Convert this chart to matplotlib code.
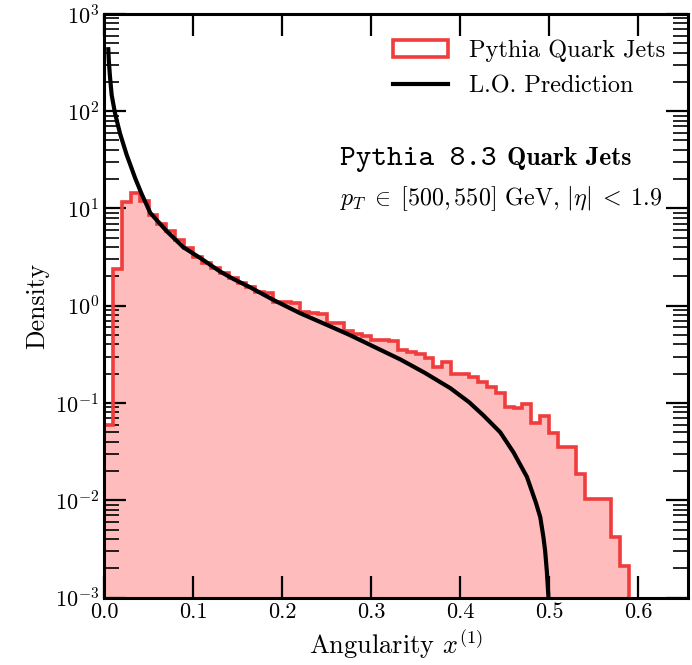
import numpy as np
import matplotlib
matplotlib.use("Agg")
import matplotlib.pyplot as plt
from matplotlib.ticker import NullFormatter

plt.rcParams['font.family'] = ['cmr10', 'DejaVu Serif']
plt.rcParams['mathtext.fontset'] = 'cm'
plt.rcParams['axes.formatter.use_mathtext'] = True

# ---- data ----
bin_edges = np.round(np.arange(0.0, 0.60001, 0.01), 3)
pythia_density = [0.059, 2.4, 11.6, 14.3, 11.8, 8.6, 7.0, 5.8, 4.75, 3.9,
                  3.2, 2.73, 2.42, 2.15, 1.91, 1.72, 1.55, 1.39, 1.36, 1.10,
                  1.08, 1.07, 0.87, 0.85, 0.83, 0.66, 0.67, 0.55, 0.51, 0.49,
                  0.44, 0.44, 0.43, 0.35, 0.335, 0.32, 0.29, 0.236, 0.265, 0.20,
                  0.20, 0.186, 0.165, 0.147, 0.126, 0.091, 0.088, 0.097, 0.062, 0.073,
                  0.049, 0.0355, 0.0355, 0.0188, 0.0104, 0.0104, 0.0104, 0.0042, 0.0021, 0.0]

lo_x = [0.0048, 0.0055, 0.0067, 0.0086, 0.0105, 0.0124, 0.015, 0.018, 0.022, 0.0255,
        0.030, 0.035, 0.042, 0.052, 0.070, 0.089, 0.108, 0.130, 0.145, 0.164,
        0.190, 0.220, 0.250, 0.276, 0.305, 0.333, 0.360, 0.389, 0.410, 0.426,
        0.445, 0.460, 0.475, 0.485, 0.490, 0.4935, 0.4955, 0.4975, 0.4995, 0.5]
lo_y = [434, 321, 227, 147, 118, 95, 76, 59, 45, 35.5,
        27.4, 20.5, 14.3, 9.0, 5.9, 4.0, 3.1, 2.26, 1.89, 1.55,
        1.15, 0.84, 0.637, 0.50, 0.372, 0.28, 0.205, 0.142, 0.102, 0.0748,
        0.050, 0.031, 0.0174, 0.0095, 0.0067, 0.0042, 0.003, 0.0018, 0.0009, 0.0001]

x_ticks = [0.0, 0.1, 0.2, 0.3, 0.4, 0.5, 0.6]

fig = plt.figure(figsize=(6.92, 6.65), dpi=100)
ax = fig.add_axes([0.1503, 0.1015, 0.844, 0.8775])

vals = np.array(pythia_density)
ax.stairs(vals, bin_edges, fill=True, color='#ffbcbc', baseline=1e-6, zorder=1)
ax.hist(bin_edges[:-1], bins=bin_edges, weights=vals, histtype='step',
        color='#f03c3c', lw=2.6, label='Pythia Quark Jets', zorder=2)
ax.plot(lo_x, lo_y, color='black', lw=3.0, label='L.O. Prediction', zorder=3)

ax.set_yscale('log')
ax.set_ylim(1e-3, 1e3)
ax.set_xlim(0, 0.656)
ax.set_xticks(x_ticks)
ax.set_xticklabels([f'{t:.1f}' for t in x_ticks])
ax.yaxis.set_minor_formatter(NullFormatter())

ax.tick_params(which='both', direction='in', top=True, right=True, labelsize=16)
ax.tick_params(which='major', length=16, width=1.6)
ax.tick_params(which='minor', length=11, width=1.2)
ax.tick_params(axis='x', which='minor', bottom=False, top=False)
for s in ax.spines.values():
    s.set_linewidth(2.2)

ax.set_xlabel(r'Angularity $x^{(1)}$', fontsize=19)
ax.set_ylabel('Density', fontsize=18.5)

leg = ax.legend(loc='upper right', bbox_to_anchor=(0.9606, 0.956), frameon=False,
                fontsize=17.5, handlelength=2.27, handletextpad=0.86,
                borderaxespad=0.0, borderpad=0.0, labelspacing=0.56)

t1 = ax.text(0.404, 0.741, 'Pythia 8.3', family='cmtt10', fontsize=21.5,
             transform=ax.transAxes, ha='left', va='baseline')
fig.canvas.draw()
bb = t1.get_window_extent()
x2 = ax.transAxes.inverted().transform((bb.x1 + 10, 0))[0]
ax.text(x2, 0.741, 'Quark Jets', family='cmb10', fontsize=18.5,
        transform=ax.transAxes, ha='left', va='baseline')
ax.text(0.404, 0.673, r'$p_T\;\in\;[500, 550]$ GeV, $|\eta|\;<\;1.9$',
        transform=ax.transAxes, fontsize=17.3, ha='left', va='baseline')

fig.savefig('out.png', dpi=100)
